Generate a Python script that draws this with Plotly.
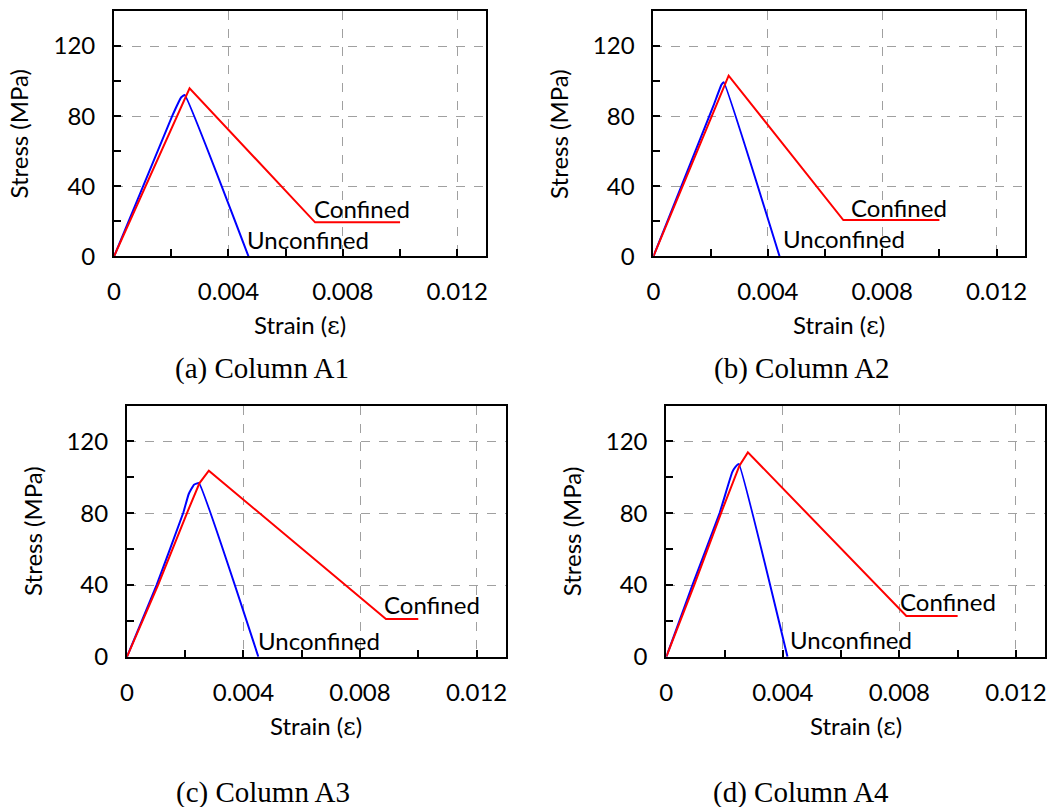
import plotly.graph_objects as go

# ---------------- data ----------------
panels = ["A1", "A2", "A3", "A4"]
captions = ["(a) Column A1", "(b) Column A2", "(c) Column A3", "(d) Column A4"]

unconf_strain = [
    [0, 0.00203, 0.00235, 0.00247, 0.00470],
    [0, 0.00210, 0.00238, 0.00246, 0.00441],
    [0, 0.00102, 0.00193, 0.00212, 0.00230, 0.00247, 0.00451],
    [0, 0.00090, 0.00183, 0.00226, 0.00238, 0.00249, 0.00416],
]
unconf_stress = [
    [0, 80, 90.8, 92.1, 0],
    [0, 86, 98.0, 99.3, 0],
    [0, 40.1, 80.1, 90.7, 95.9, 96.8, 0],
    [0, 40.1, 80.1, 102.7, 105.9, 107.4, 0],
]
conf_strain = [
    [0, 0.00264, 0.00703, 0.01000],
    [0, 0.00263, 0.00664, 0.01000],
    [0, 0.00107, 0.00206, 0.00249, 0.00281, 0.00889, 0.01000],
    [0, 0.00096, 0.00188, 0.00251, 0.00280, 0.00824, 0.01000],
]
conf_stress = [
    [0, 95.9, 19.4, 19.4],
    [0, 103.1, 20.7, 20.7],
    [0, 40.1, 80.1, 96.8, 103.7, 21, 21],
    [0, 40.1, 80.1, 106.5, 113.9, 22.8, 22.8],
]
# label anchor positions (left edge, vertical middle), in data units
conf_label_xy = [(0.00693, 27.3), (0.00685, 28.0), (0.00874, 29.4), (0.00797, 30.7)]
unconf_label_xy = [(0.00457, 9.7), (0.00447, 10.0), (0.00443, 8.9), (0.00417, 9.9)]

x_ticks = [0, 0.004, 0.008, 0.012]
x_ticklabels = ["0", "0.004", "0.008", "0.012"]
y_ticks = [0, 40, 80, 120]
y_ticklabels = ["0", "40", "80", "120"]

# ---------------- layout geometry (pixels of the 1050x807 reference) ----------------
W, H = 1050, 807
FIG_H = 821  # the page photo is slightly compressed vertically; compensate
boxes = [  # left, right, top, bottom
    (108, 483, 11, 256),
    (652, 1027, 11, 256),
    (121, 503, 405, 656),
    (665, 1047, 405, 656),
]
caption_pos = [(257, 368), (802, 368), (258, 792), (801, 792)]

SANS = "Lato"
SERIF = "Liberation Serif"
FS = 24

fig = go.Figure()
layout_axes = {}
annotations = []

for i in range(4):
    l, r, t, b = boxes[i]
    xa = "x" if i == 0 else f"x{i+1}"
    ya = "y" if i == 0 else f"y{i+1}"
    xkey = "xaxis" if i == 0 else f"xaxis{i+1}"
    ykey = "yaxis" if i == 0 else f"yaxis{i+1}"

    fig.add_trace(go.Scatter(x=unconf_strain[i], y=unconf_stress[i], mode="lines",
                             line=dict(color="#0000FF", width=2, shape="spline", smoothing=0.3),
                             xaxis=xa, yaxis=ya, showlegend=False, name="Unconfined"))
    fig.add_trace(go.Scatter(x=conf_strain[i], y=conf_stress[i], mode="lines",
                             line=dict(color="#FF0000", width=2), xaxis=xa, yaxis=ya,
                             showlegend=False, name="Confined"))

    common = dict(showline=True, linecolor="black", linewidth=2, mirror=True,
                  showgrid=True, gridcolor="#A0A0A0", griddash="dash", gridwidth=1,
                  ticks="inside", ticklen=7, tickcolor="black", tickwidth=1.5,
                  zeroline=False, tickfont=dict(family=SANS, size=FS, color="black"),
                  fixedrange=True)
    layout_axes[xkey] = dict(common, domain=[l / W, r / W], range=[0, 0.013],
                             anchor=ya, tickmode="array", tickvals=x_ticks,
                             ticktext=x_ticklabels, ticklabelstandoff=13,
                             minor=dict(dtick=0.002, tick0=0, ticks="inside", ticklen=7,
                                        tickcolor="black", tickwidth=1.5, showgrid=False))
    layout_axes[ykey] = dict(common, domain=[1 - b / H, 1 - t / H], range=[0, 140],
                             anchor=xa, tickmode="array", tickvals=y_ticks,
                             ticktext=y_ticklabels, ticklabelstandoff=12,
                             minor=dict(dtick=20, tick0=0, ticks="inside", ticklen=7,
                                        tickcolor="black", tickwidth=1.5, showgrid=False))

    # curve labels
    cx, cy = conf_label_xy[i]
    ux, uy = unconf_label_xy[i]
    annotations.append(dict(x=cx, y=cy, xref=xa, yref=ya, text="Confined", showarrow=False,
                            xanchor="left", yanchor="middle",
                            font=dict(family=SANS, size=FS, color="black")))
    annotations.append(dict(x=ux, y=uy, xref=xa, yref=ya, text="Unconfined", showarrow=False,
                            xanchor="left", yanchor="middle",
                            font=dict(family=SANS, size=FS, color="black")))
    # axis titles
    annotations.append(dict(x=(l + r) / 2 / W, y=1 - (b + 69) / H, xref="paper", yref="paper",
                            text="Strain (<span style=\"font-family:'DejaVu Serif'\">ε</span>)",
                            showarrow=False, xanchor="center", yanchor="middle",
                            font=dict(family=SANS, size=FS, color="black")))
    annotations.append(dict(x=(l - 96) / W, y=1 - (t + b) / 2 / H, xref="paper", yref="paper",
                            text="Stress (MPa)", textangle=-90, showarrow=False,
                            xanchor="center", yanchor="middle",
                            font=dict(family=SANS, size=FS, color="black")))
    # caption
    cxp, cyp = caption_pos[i]
    annotations.append(dict(x=cxp / W, y=1 - cyp / H, xref="paper", yref="paper",
                            text=captions[i], showarrow=False, xanchor="center",
                            yanchor="middle", font=dict(family=SERIF, size=29, color="black")))

fig.update_layout(width=W, height=FIG_H, margin=dict(l=0, r=0, t=0, b=0),
                  paper_bgcolor="white", plot_bgcolor="white",
                  annotations=annotations, **layout_axes)

fig.write_html("out.html", config={"displayModeBar": False},
               post_script="document.body.style.margin='0px';document.body.style.overflow='hidden';")
